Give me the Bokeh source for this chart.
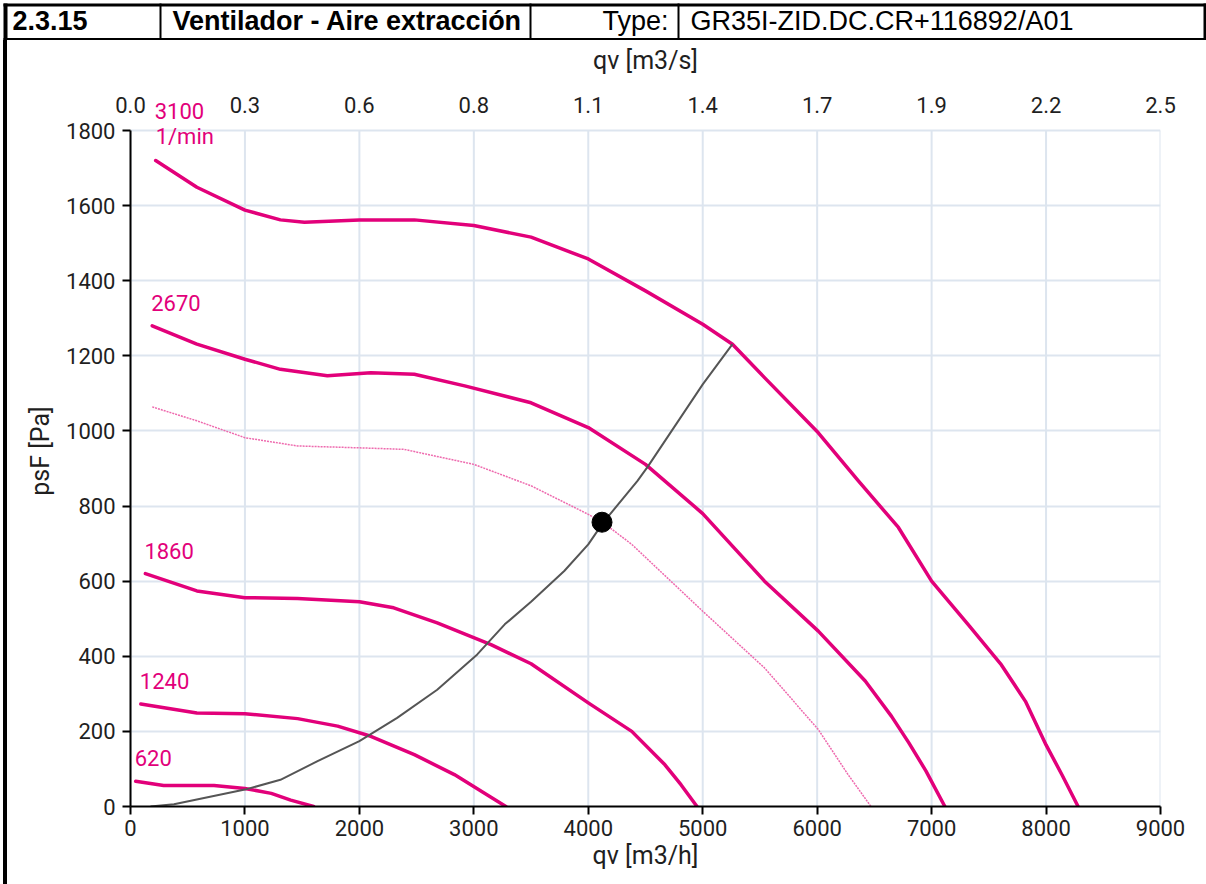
from bokeh.plotting import figure
from bokeh.layouts import column, row
from bokeh.models import LinearAxis, FixedTicker, Label, Range1d, Spacer
from bokeh.core.properties import value
from bokeh.embed import file_html
from bokeh.resources import INLINE

# ---------------- data ----------------
x_ticks = [0, 1000, 2000, 3000, 4000, 5000, 6000, 7000, 8000, 9000]
top_labels = ["0.0", "0.3", "0.6", "0.8", "1.1", "1.4", "1.7", "1.9", "2.2", "2.5"]
y_ticks = [0, 200, 400, 600, 800, 1000, 1200, 1400, 1600, 1800]

n3100_x = [220, 580, 1000, 1310, 1520, 2000, 2480, 3000, 3500, 4000, 4500, 5000, 5260, 5540,
           6010, 6360, 6710, 7000, 7320, 7610, 7820, 8000, 8140, 8280]
n3100_y = [1720, 1649, 1588, 1562, 1556, 1562, 1562, 1547, 1516, 1458, 1373, 1284, 1231, 1142,
           995, 867, 743, 600, 484, 377, 280, 164, 84, 0]

n2670_x = [190, 580, 1000, 1310, 1720, 2100, 2480, 2920, 3500, 4000, 4500, 5000, 5540, 6010,
           6420, 6650, 6800, 6950, 7116]
n2670_y = [1280, 1231, 1191, 1164, 1147, 1155, 1151, 1120, 1075, 1009, 911, 780, 600, 467,
           334, 240, 170, 95, 0]

op_x = [190, 580, 1000, 1460, 2000, 2390, 3000, 3500, 4000, 4130, 4380, 5000, 5540, 6010, 6270, 6470]
op_y = [1064, 1027, 982, 960, 955, 951, 911, 854, 778, 756, 698, 520, 369, 205, 85, 0]

n1860_x = [130, 580, 1000, 1460, 2000, 2300, 2680, 3150, 3500, 4000, 4380, 4670, 4810, 4950]
n1860_y = [620, 574, 556, 554, 545, 529, 489, 431, 380, 276, 200, 111, 58, 0]

n1240_x = [90, 580, 1000, 1460, 1810, 2100, 2480, 2830, 3090, 3280]
n1240_y = [273, 249, 247, 234, 214, 187, 138, 85, 36, 0]

n620_x = [45, 290, 730, 1000, 1230, 1400, 1600]
n620_y = [67, 56, 56, 48, 35, 17, 0]

sys_x = [175, 380, 1000, 1310, 1630, 2000, 2330, 2680, 3030, 3270, 3500, 3790, 4000, 4130,
         4430, 4520, 5000, 5260]
sys_y = [0, 6, 45, 71, 120, 174, 236, 311, 405, 485, 545, 627, 698, 756, 867, 905, 1124, 1231]

point_x = [4120]
point_y = [757]

rpm_names = ["3100", "2670", "1860", "1240", "620"]
rpm_unit = "1/min"

header_id = "2.3.15"
header_title = "Ventilador - Aire extracción"
header_type = "Type:"
header_model = "GR35I-ZID.DC.CR+116892/A01"

# ---------------- styles ----------------
MAG = "#E2007A"
TXT = "#1f1f1f"
GRID = "#dde5ef"
FONT = "Roboto"
HFONT = "Liberation Sans"
TOP_PAD = 35          # extra frame pixels above 1800 Pa (room for the "3100" label)
PLOT_PX = 676         # pixel height of 0..1800 Pa

# ---------------- header (table row) ----------------
hdr = figure(width=1206, height=40, output_backend="svg", toolbar_location=None,
             x_range=Range1d(0, 1206), y_range=Range1d(40, 0),
             x_axis_type=None, y_axis_type=None,
             min_border=0, min_border_left=0, min_border_right=0,
             min_border_top=0, min_border_bottom=0)
hdr.outline_line_color = None
hdr.background_fill_color = "white"
hdr.border_fill_color = "white"
rules = [(3, 1206, 3, 6), (3, 1206, 37.5, 40), (3, 7, 3, 40), (159, 161, 3, 40),
         (529, 531, 3, 40), (677, 679, 3, 40), (1203, 1206, 3, 40)]
hdr.quad(left=[r[0] for r in rules], right=[r[1] for r in rules],
         top=[r[2] for r in rules], bottom=[r[3] for r in rules],
         fill_color="black", line_color=None)
hdr.text(x=[12, 172], y=[20, 20], text=[header_id, header_title],
         text_font=value(HFONT), text_font_size="27px", text_font_style="bold",
         text_color="black", text_baseline="alphabetic", text_align="left")
hdr.text(x=[668], y=[20], text=[header_type],
         text_font=value(HFONT), text_font_size="27px",
         text_color="black", text_baseline="alphabetic", text_align="right")
hdr.text(x=[690], y=[20], text=[header_model],
         text_font=value(HFONT), text_font_size="27px",
         text_color="black", text_baseline="alphabetic", text_align="left")

# ---------------- left table border ----------------
gap = Spacer(width=3, height=844)
border = Spacer(width=4, height=844, styles={"background-color": "black"})

# ---------------- chart ----------------
y_end = y_ticks[-1] * (PLOT_PX + TOP_PAD) / PLOT_PX
p = figure(width=1199, height=844, output_backend="svg", toolbar_location=None,
           x_range=Range1d(x_ticks[0], x_ticks[-1]), y_range=Range1d(y_ticks[0], y_end),
           min_border_left=123, min_border_right=46, min_border_top=55, min_border_bottom=78,
           background_fill_color="white", border_fill_color="white")
p.outline_line_color = None
p.xgrid.visible = False

for ax in (p.xaxis[0], p.yaxis[0]):
    ax.axis_line_color = "black"
    ax.axis_line_width = 2
    ax.major_tick_line_color = "black"
    ax.major_tick_line_width = 2
    ax.major_tick_out = 8
    ax.major_tick_in = 0
    ax.minor_tick_line_color = None
    ax.major_label_text_font = FONT
    ax.major_label_text_font_size = "22px"
    ax.major_label_text_color = TXT
    ax.axis_label_text_font = FONT
    ax.axis_label_text_font_size = "25px"
    ax.axis_label_text_font_style = "normal"
    ax.axis_label_text_color = TXT

p.xaxis[0].ticker = FixedTicker(ticks=x_ticks)
p.yaxis[0].ticker = FixedTicker(ticks=y_ticks)
p.yaxis[0].bounds = (y_ticks[0], y_ticks[-1])
p.xaxis[0].axis_label = "qv [m3/h]"
p.yaxis[0].axis_label = "psF [Pa]"
p.xaxis[0].major_label_standoff = 5
p.xaxis[0].axis_label_standoff = 2
p.yaxis[0].major_label_standoff = 7
p.yaxis[0].axis_label_standoff = 8

top = LinearAxis(ticker=FixedTicker(ticks=x_ticks),
                 major_label_overrides={t: l for t, l in zip(x_ticks, top_labels)},
                 axis_label="qv [m3/s]",
                 axis_line_color=None, major_tick_line_color=None, minor_tick_line_color=None,
                 major_tick_out=0, major_tick_in=0,
                 major_label_standoff=-17, axis_label_standoff=19,
                 major_label_text_font=FONT, major_label_text_font_size="22px",
                 major_label_text_color=TXT,
                 axis_label_text_font=FONT, axis_label_text_font_size="25px",
                 axis_label_text_font_style="normal", axis_label_text_color=TXT)
p.add_layout(top, "above")

p.ygrid.grid_line_color = GRID
p.ygrid.grid_line_width = 2
p.ygrid.ticker = FixedTicker(ticks=y_ticks)
# vertical grid lines limited to the 0..1800 Pa area
p.segment(x0=x_ticks, y0=[y_ticks[0]] * len(x_ticks), x1=x_ticks, y1=[y_ticks[-1]] * len(x_ticks),
          line_color=GRID, line_width=2)

curves = [(n3100_x, n3100_y), (n2670_x, n2670_y), (n1860_x, n1860_y),
          (n1240_x, n1240_y), (n620_x, n620_y)]
for xs, ys in curves:
    p.line(xs, ys, line_color=MAG, line_width=3.5, line_join="round", line_cap="round")

p.line(op_x, op_y, line_color="#EE6AAE", line_width=1.5, line_dash="2 1")
p.line(sys_x, sys_y, line_color="#555555", line_width=2, line_join="round")
p.scatter(point_x, point_y, size=20, color="black")

for name, (xs, ys) in zip(rpm_names, curves):
    p.add_layout(Label(x=xs[0], y=ys[0], x_offset=-1, y_offset=50 if name == "3100" else 23,
                       text=name, text_font=FONT, text_font_size="22px", text_color=MAG,
                       text_baseline="alphabetic", text_align="left"))
p.add_layout(Label(x=n3100_x[0], y=n3100_y[0], x_offset=0, y_offset=24, text=rpm_unit,
                   text_font=FONT, text_font_size="22px", text_color=MAG,
                   text_baseline="alphabetic", text_align="left"))

layout = column(hdr, row(gap, border, p, spacing=0), spacing=0)
open("out.html", "w").write(file_html(layout, INLINE))
